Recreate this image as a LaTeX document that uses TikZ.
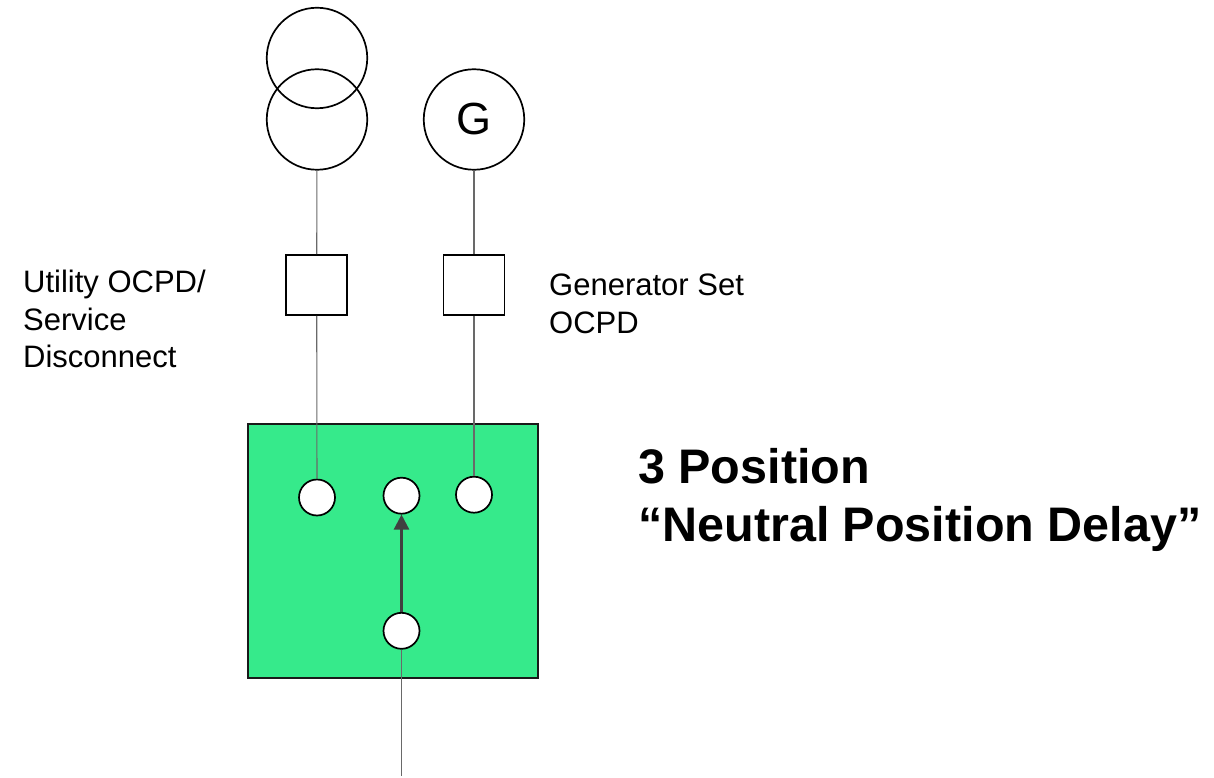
\documentclass[tikz,border=0pt]{standalone}
\usepackage{fontspec}
\setmainfont{Liberation Sans}
\usetikzlibrary{arrows.meta,positioning}
\definecolor{atsgreen}{RGB}{54,234,139}
\definecolor{wiregray}{RGB}{105,105,105}
\definecolor{armgray}{RGB}{64,64,64}
\tikzset{
  wire/.style={draw=wiregray, line width=1.1pt},
  label text/.style={anchor=north west, inner sep=0pt, align=left,
    font=\fontsize{31}{37.5}\selectfont},
}

\begin{document}
\begin{tikzpicture}[x=1pt,y=-1pt]
  \useasboundingbox (0,0) rectangle (1214,778);
  % transfer switch body
  \node (ATS) [draw=black!90, fill=atsgreen, line width=1.8pt, inner sep=0pt,
    minimum width=290pt, minimum height=254pt] at (393.3,551.3) {};
  \begin{scope}[every node/.style={circle,draw,line width=1.7pt,inner sep=0pt,minimum size=100.5pt}]
    \node (T1) at (317,58) {};
    \node (T2) at (317,119.5) {};
    \node (G) at (474,119.5) {\fontsize{45}{50}\selectfont G};
  \end{scope}
  \begin{scope}[every node/.style={rectangle,draw,line width=1.7pt,inner sep=0pt,minimum width=61pt,minimum height=60pt}]
    \node (B1) at (316.7,285) {};
    \node (B2) at (474,285) {};
  \end{scope}
  \begin{scope}[every node/.style={circle,draw,fill=white,line width=1.7pt,inner sep=0pt,minimum size=36pt}]
    \node (P1) at (317,497.5) {};
    \node (P2) at (401.5,495.7) {};
    \node (P3) at (474,494.7) {};
    \node (P4) at (401.5,630.8) {};
  \end{scope}
  \coordinate (load) at (401.5,776);
  \begin{scope}[every edge/.style={wire}]
    \path (T2) edge (B1);
    \path (B1) edge (P1);
    \path (G) edge (B2);
    \path (B2) edge (P3);
    \path (P4) edge (load);
  \end{scope}
  \draw[armgray, line width=2.4pt, -{Triangle[width=15pt,length=15pt]}] (P4) -- (P2);
  % labels
  \node (utility) [label text] at (23,270) {Utility OCPD/\\Service\\Disconnect};
  \node (genset) [label text] at (549,274) {Generator Set\\OCPD};
  \node (title) [anchor=north west, inner sep=0pt, align=left,
    font=\bfseries\fontsize{48.5}{58}\selectfont] at (638,448.5)
    {3 Position\\“Neutral Position Delay”};
\end{tikzpicture}
\end{document}
